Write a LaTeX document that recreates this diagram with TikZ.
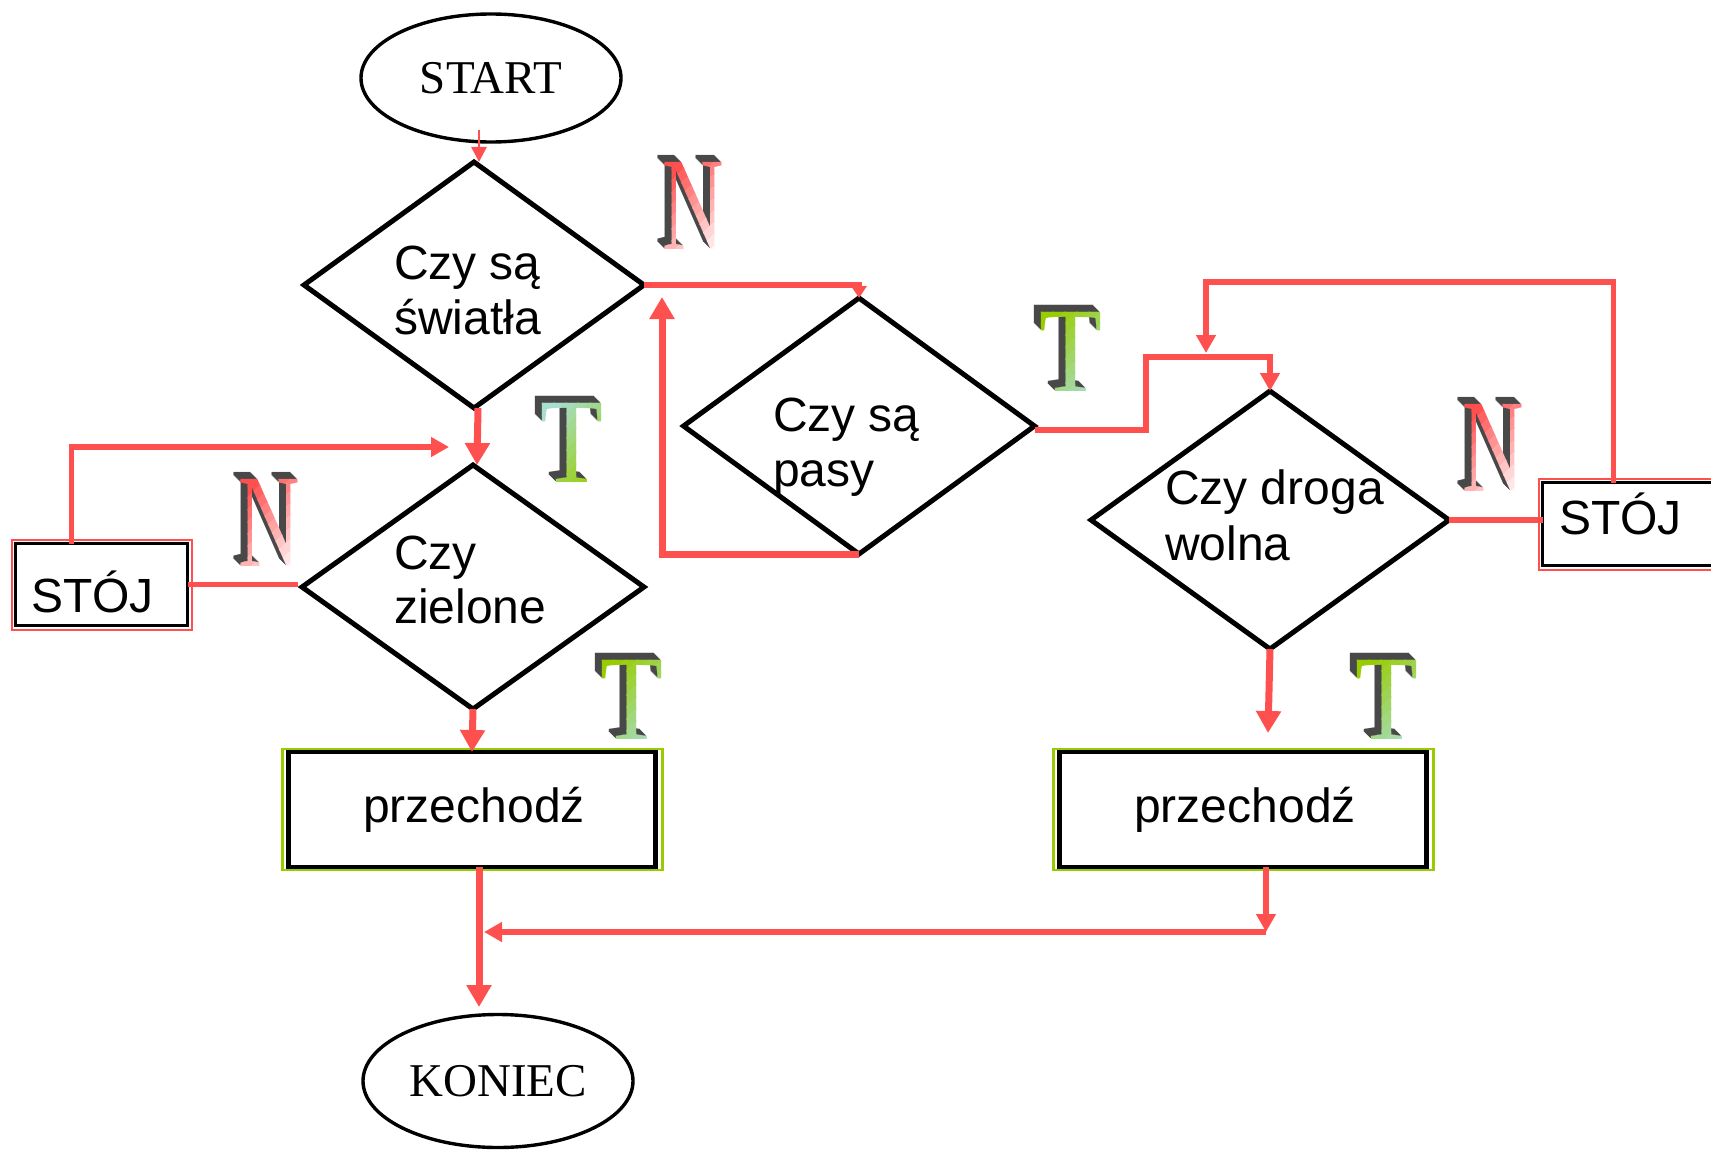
\documentclass[tikz,border=0pt]{standalone}
\usepackage{fontspec}
\setmainfont{Liberation Sans}
\newfontfamily\serifface{Liberation Serif}
\usetikzlibrary{shapes.geometric,arrows.meta,calc}

\definecolor{flow}{RGB}{255,80,80}
\definecolor{lime}{RGB}{153,204,0}
\definecolor{aqua}{RGB}{168,222,208}
\definecolor{bevel}{RGB}{72,72,72}
\definecolor{blush}{RGB}{255,246,246}

\tikzset{
  decision/.style={diamond, draw=black, line width=5, inner sep=0, outer sep=0},
  terminal/.style={ellipse, draw=black, line width=3.4, inner sep=0, outer sep=0,
    font=\serifface\fontsize{47}{50}\selectfont},
  stopbox/.style={rectangle, draw=black, line width=3.4, inner sep=0, outer sep=0,
    minimum width=172, minimum height=82},
  stopframe/.style={draw=flow, line width=2},
  actbox/.style={rectangle, draw=black, line width=4.5, inner sep=0, outer sep=0,
    minimum width=367, minimum height=115},
  actframe/.style={draw=lime, line width=2.2},
  label/.style={inner sep=0, outer sep=0, anchor=base west, font=\fontsize{48}{55}\selectfont},
  clabel/.style={label, anchor=base},
  thinflow/.style={draw=flow, line width=2.6, -{Triangle[length=15pt,width=15pt]}},
  midflow/.style={draw=flow, line width=5.5},
  boldflow/.style={draw=flow, line width=7},
  smalltip/.style={-{Triangle[length=12pt,width=15pt]}},
  midtip/.style={-{Triangle[length=18pt,width=19pt]}},
  bigtip/.style={-{Triangle[length=22pt,width=24pt]}},
  Nglyph/.style={inner sep=0, outer sep=0, font=\serifface\fontsize{133}{133}\selectfont},
  Tglyph/.style={inner sep=0, outer sep=0, font=\serifface\fontsize{121}{121}\selectfont},
}

% embossed letter: dark extrusion towards the upper left, face shaded in
% diagonal bands from #5 (upper left) to #6 (lower right)
\newcommand\bevelletter[6]{%
  \foreach \k in {7,6,...,1}
    \node[#4, text=bevel] (#1-\k) at ($(#2)+(-\k,-\k)$) {#3};
  \foreach \i in {0,1,...,13}{%
    \pgfmathtruncatemacro\pct{max(0,min(100,100-(\i-2)*10))}%
    \begin{scope}
      \clip ($(#2)+(-100,100-84+12*\i)$) -- ($(#2)+(100,-100-84+12*\i)$)
         -- ($(#2)+(100,-100-71+12*\i)$) -- ($(#2)+(-100,100-71+12*\i)$) -- cycle;
      \node[#4, text=#5!\pct!#6] (#1-band\i) at (#2) {#3};
    \end{scope}
  }%
}

\begin{document}
\begin{tikzpicture}[x=1pt, y=-1pt]
\useasboundingbox (0,0) rectangle (1711,1153);

% terminals
\node[terminal, minimum width=260, minimum height=128] (start) at (491,78) {START};
\node[terminal, minimum width=270, minimum height=133] (end) at (498,1081) {KONIEC};

% decisions
\node[decision, minimum width=340, minimum height=246] (d1) at (474,285) {};
\node[decision, minimum width=342, minimum height=244] (d2) at (473,587) {};
\node[decision, minimum width=351, minimum height=256] (d3) at (859,426) {};
\node[decision, minimum width=358, minimum height=258] (d4) at (1270,520) {};

\node[label] (d1a) at (394,279) {Czy są};
\node[label] (d1b) at (394,334) {światła};
\node[label] (d2a) at (394,569) {Czy};
\node[label] (d2b) at (394,623) {zielone};
\node[label] (d3a) at (773,431) {Czy są};
\node[label] (d3b) at (773,486) {pasy};
\node[label] (d4a) at (1165,504) {Czy droga};
\node[label] (d4b) at (1165,560) {wolna};

% stop boxes with their red frames
\node[stopbox] (s1) at (101.5,584.5) {};
\draw[stopframe] ($(s1.north west)+(-4,-4)$) rectangle ($(s1.south east)+(4,4)$);
\node[label] (s1t) at (31,612) {STÓJ};
\node[stopbox, minimum height=83] (s2) at (1628.5,524) {};
\draw[stopframe] ($(s2.north west)+(-4,-4)$) rectangle ($(s2.south east)+(4,4)$);
\node[label] (s2t) at (1559,534) {STÓJ};

% action boxes with their green frames
\node[actbox] (p1) at (472,809.5) {};
\draw[actframe] ($(p1.north west)+(-6,-3)$) rectangle ($(p1.south east)+(7,3)$);
\node[clabel] (p1t) at (474,822) {przechodź};
\node[actbox] (p2) at (1243,809.5) {};
\draw[actframe] ($(p2.north west)+(-6,-3)$) rectangle ($(p2.south east)+(7,3)$);
\node[clabel] (p2t) at (1245,822) {przechodź};

% connectors
\coordinate (a1) at (479,130);
\draw[thinflow] (a1) -- (d1.north -| a1);

\draw[boldflow, bigtip] ([xshift=4]d1.south) -- ([xshift=4]d2.north);

\coordinate (c3) at (449,447);
\draw[midflow, midtip] ([xshift=-30]s1.north) |- (c3);
\draw[midflow] (s1.east) -- ($(s1.east -| d2.west)+(-4,0)$);

\draw[midflow, smalltip] (d1.east) -| (d3.north);

\coordinate (c6) at (662,297);
\draw[boldflow, bigtip] (d3.south) -| (c6);

\coordinate (c7) at (1146,357);
\draw[midflow, midtip] ($(d3.east)+(0,4)$) -| (c7) -| (d4.north);

\coordinate (c8a) at (1206,282);
\coordinate (c8) at (1206,353);
\draw[midflow, midtip] ([xshift=-15]s2.north) |- (c8a) -- (c8);
\draw[midflow] (d4.east) -- (d4.east -| s2.west);

\coordinate (c10) at (1268,733);
\draw[boldflow, bigtip] (d4.south) -- (c10);

\draw[boldflow, bigtip] (d2.south) -- (p1.north);

\coordinate (c12) at (479,1007);
\draw[boldflow, bigtip] (p1.south -| c12) -- (c12);

\coordinate (c13) at (1266,932);
\coordinate (c13b) at (484,932);
\draw[midflow, midtip] (p2.south -| c13) -- (c13);
\draw[midflow, midtip] (c13) -- (c13b);

% branch letters
\bevelletter{n1}{693,206}{\scalebox{0.64}[1]{N}}{Nglyph}{flow}{blush}
\bevelletter{n2}{269,523}{\scalebox{0.64}[1]{N}}{Nglyph}{flow}{blush}
\bevelletter{n3}{1493,448}{\scalebox{0.64}[1]{N}}{Nglyph}{flow}{blush}
\bevelletter{t1}{572,443}{\scalebox{0.85}[1]{T}}{Tglyph}{aqua}{lime}
\bevelletter{t2}{1071,352}{\scalebox{0.85}[1]{T}}{Tglyph}{lime}{aqua}
\bevelletter{t3}{632,700}{\scalebox{0.85}[1]{T}}{Tglyph}{lime}{aqua}
\bevelletter{t4}{1387,700}{\scalebox{0.85}[1]{T}}{Tglyph}{lime}{aqua}
\end{tikzpicture}
\end{document}
